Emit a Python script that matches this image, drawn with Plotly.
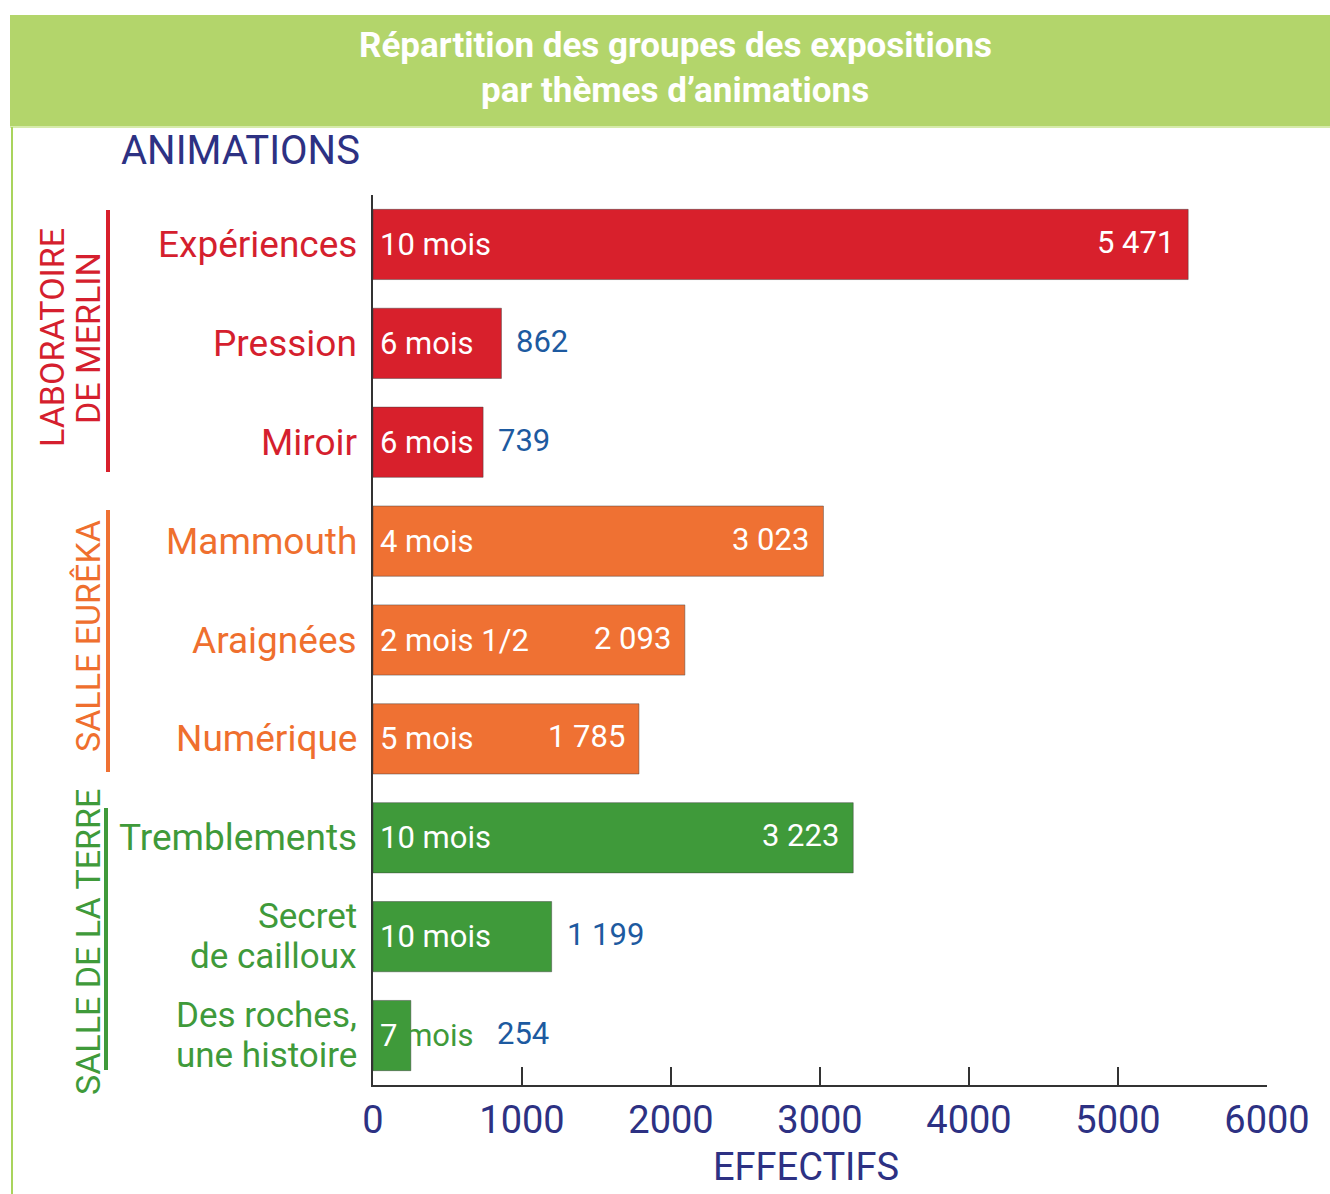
import plotly.graph_objects as go

# ---------------- data ----------------
categories = ["Expériences", "Pression", "Miroir",
              "Mammouth", "Araignées", "Numérique",
              "Tremblements", "Secret\nde cailloux", "Des roches,\nune histoire"]
values = [5471, 862, 739, 3023, 2093, 1785, 3223, 1199, 254]
durations = ["10 mois", "6 mois", "6 mois", "4 mois", "2 mois 1/2", "5 mois",
             "10 mois", "10 mois", "7 mois"]
groups = ["merlin", "merlin", "merlin", "eureka", "eureka", "eureka",
          "terre", "terre", "terre"]
group_names = {"merlin": ["LABORATOIRE", "DE MERLIN"],
               "eureka": ["SALLE EURÊKA"],
               "terre": ["SALLE DE LA TERRE"]}
x_ticks = [0, 1000, 2000, 3000, 4000, 5000, 6000]
title_lines = ["Répartition des groupes des expositions", "par thèmes d’animations"]

# ---------------- style ----------------
bar_colors = {"merlin": "#d8202c", "eureka": "#ef7133", "terre": "#3f9a3a"}
text_colors = {"merlin": "#d51f2e", "eureka": "#ef6f2e", "terre": "#3f9a3a"}
NAVY = "#2d3183"
BLUE = "#1d5aa0"
FONT = "Roboto, 'Open Sans', sans-serif"

W, H = 1330, 1194
L, R, T, B = 373, 63, 195, 109
PW, PH = W - L - R, H - T - B


def px(x):
    return (x - L) / PW


def py(y):
    return (H - B - y) / PH


ids = list(range(len(categories)))
fig = go.Figure()
fig.add_trace(go.Bar(
    y=ids, x=values, orientation="h",
    marker=dict(color=[bar_colors[g] for g in groups],
                line=dict(color="rgba(60,60,60,0.45)", width=1)),
    hoverinfo="skip", showlegend=False,
))

ann = []
shapes = []

# header band
shapes.append(dict(type="rect", xref="paper", yref="paper",
                   x0=px(10), x1=px(1335), y0=py(127), y1=py(15),
                   fillcolor="#b3d56b", line=dict(width=0), layer="below"))
shapes.append(dict(type="line", xref="paper", yref="paper",
                   x0=px(10), x1=px(1335), y0=py(127), y1=py(127),
                   line=dict(color="#d6ebaa", width=2)))
shapes.append(dict(type="line", xref="paper", yref="paper",
                   x0=px(12), x1=px(12), y0=py(127), y1=py(1200),
                   line=dict(color="#a9d45c", width=2)))
for i, line in enumerate(title_lines):
    ann.append(dict(xref="paper", yref="paper", x=px(675), y=py(45 + 45 * i),
                    text="<b>%s</b>" % line, showarrow=False,
                    font=dict(family=FONT, size=35, color="white"),
                    xanchor="center", yanchor="middle"))

ann.append(dict(xref="paper", yref="paper", x=px(119), y=py(150),
                text="ANIMATIONS", showarrow=False,
                font=dict(family=FONT, size=40, color=NAVY),
                xanchor="left", yanchor="middle"))
ann.append(dict(xref="paper", yref="paper", x=px(806), y=py(1167),
                text="EFFECTIFS", showarrow=False,
                font=dict(family=FONT, size=38, color=NAVY),
                xanchor="center", yanchor="middle"))

# category labels, duration labels, value labels
for i, (cat, v, d, g) in enumerate(zip(categories, values, durations, groups)):
    lines = cat.split("\n")
    n = len(lines)
    size = 37 if n == 1 else 35
    for k, line in enumerate(lines):
        ann.append(dict(xref="x", yref="y", x=0, y=i, text=line, showarrow=False,
                        xanchor="right", yanchor="middle", xshift=-14,
                        yshift=(n - 1) * 20 - 40 * k,
                        font=dict(family=FONT, size=size, color=text_colors[g])))
    short = v < 500
    if short:
        first, rest = d.split(" ", 1)
        dtxt = "<span style='color:white'>%s</span> <span style='color:%s'>%s</span>" % (
            first, text_colors[g], rest)
    else:
        dtxt = d
    ann.append(dict(xref="x", yref="y", x=0, y=i, text=dtxt, showarrow=False,
                    xanchor="left", yanchor="middle", xshift=5,
                    font=dict(family=FONT, size=31, color="white")))
    vtxt = f"{v:,}".replace(",", " ")
    if v > 1500:
        ann.append(dict(xref="x", yref="y", x=v, y=i, text=vtxt, showarrow=False,
                        xanchor="right", yanchor="middle", xshift=-12, yshift=2,
                        font=dict(family=FONT, size=31, color="white")))
    elif short:
        ann.append(dict(xref="x", yref="y", x=0, y=i, text=vtxt, showarrow=False,
                        xanchor="left", yanchor="middle", xshift=122, yshift=2,
                        font=dict(family=FONT, size=31, color=BLUE)))
    else:
        ann.append(dict(xref="x", yref="y", x=v, y=i, text=vtxt, showarrow=False,
                        xanchor="left", yanchor="middle", xshift=13, yshift=2,
                        font=dict(family=FONT, size=31, color=BLUE)))

# group labels and bars
group_geom = {"merlin": dict(bar=(108, 210, 472), text_x=[52, 88], text_y=338),
              "eureka": dict(bar=(108, 510, 772), text_x=[88], text_y=636),
              "terre": dict(bar=(106, 808, 1070), text_x=[88], text_y=942)}
for g, geo in group_geom.items():
    bx, by0, by1 = geo["bar"]
    shapes.append(dict(type="line", xref="paper", yref="paper",
                       x0=px(bx), x1=px(bx), y0=py(by0), y1=py(by1),
                       line=dict(color=bar_colors[g], width=4)))
    for tx, name in zip(geo["text_x"], group_names[g]):
        ann.append(dict(xref="paper", yref="paper", x=px(tx), y=py(geo["text_y"]),
                        text=name, showarrow=False, textangle=-90,
                        xanchor="center", yanchor="middle",
                        font=dict(family=FONT, size=34, color=text_colors[g])))

fig.update_layout(
    width=W, height=H,
    margin=dict(l=L, r=R, t=T, b=B, pad=0),
    paper_bgcolor="white", plot_bgcolor="white",
    bargap=0.29,
    annotations=ann, shapes=shapes,
    xaxis=dict(range=[0, 6000], tickvals=x_ticks, ticktext=[str(t) for t in x_ticks],
               showgrid=False, zeroline=False, showline=True,
               linecolor="#333333", linewidth=2,
               ticks="inside", ticklen=18, tickwidth=1.5, tickcolor="#333333",
               tickfont=dict(family=FONT, size=38, color=NAVY),
               ticklabelstandoff=0, fixedrange=True),
    yaxis=dict(range=[8.5, -0.5], showgrid=False, zeroline=False, showline=True,
               linecolor="#333333", linewidth=2, showticklabels=False, ticks="",
               fixedrange=True),
)

fig.write_html("out.html", config={"displayModeBar": False},
               post_script="document.body.style.margin='0px';document.body.style.overflow='hidden';")
